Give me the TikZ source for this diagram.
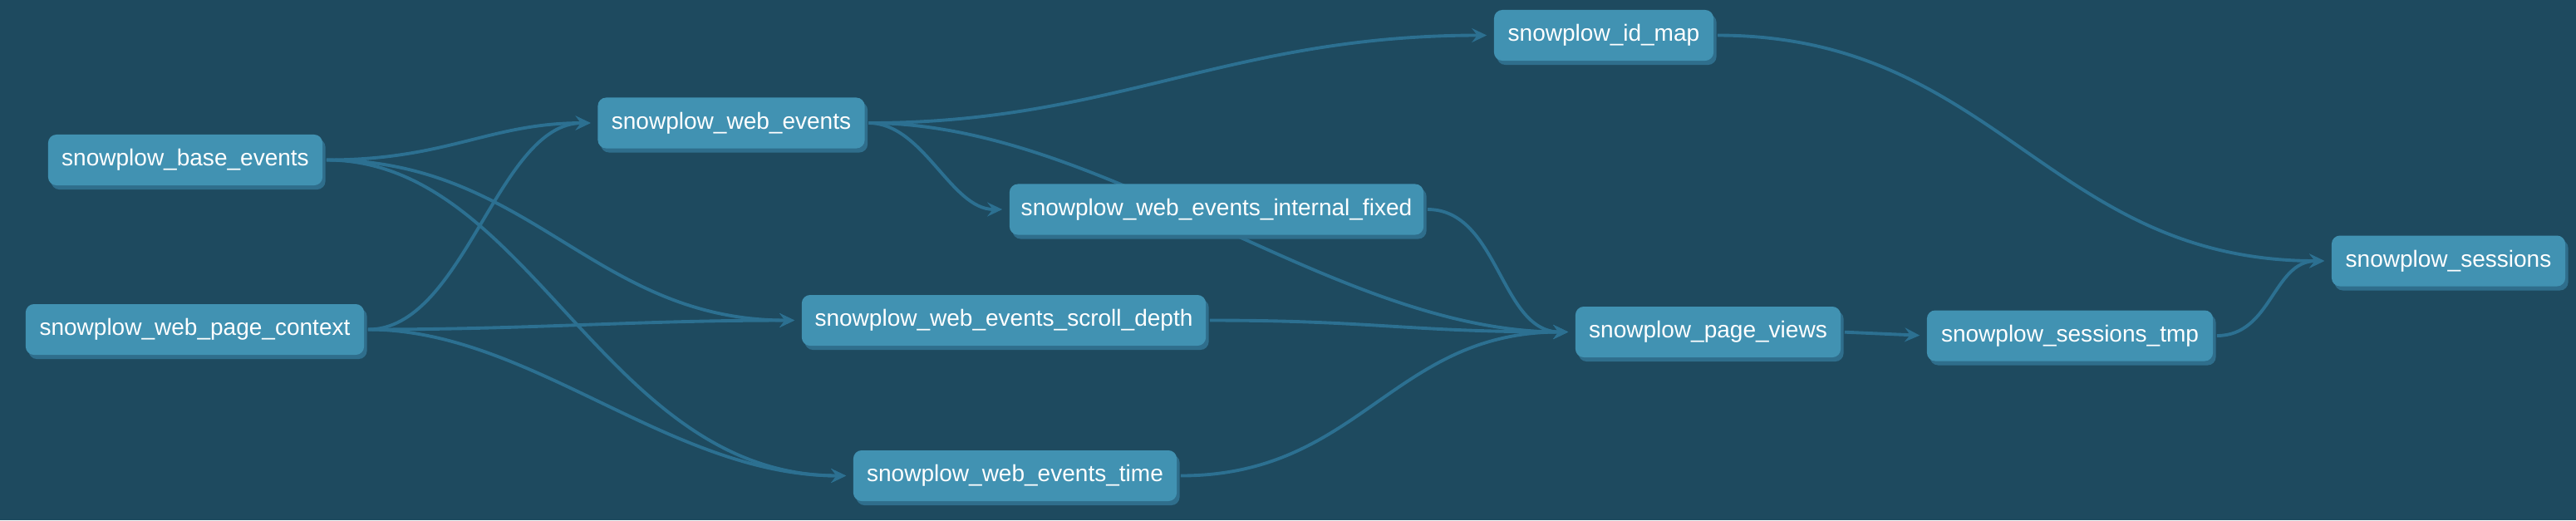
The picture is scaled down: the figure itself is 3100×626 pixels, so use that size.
\documentclass[tikz,border=0pt]{standalone}
\usepackage{fontspec}
\setmainfont{Liberation Sans}
\usetikzlibrary{arrows.meta,shadows}
\definecolor{bgc}{RGB}{30,74,95}
\definecolor{nodec}{RGB}{65,146,178}
\definecolor{shadc}{RGB}{47,110,140}
\definecolor{edgec}{RGB}{44,112,145}
\pgfdeclarelayer{bglayer}
\pgfdeclarelayer{edgelayer}
\pgfsetlayers{bglayer,edgelayer,main}
\tikzset{
  model/.style={rectangle, rounded corners=0.1cm, fill=nodec, text=white,
    minimum height=0.61cm, inner sep=0pt,
    font=\fontsize{7.97pt}{9pt}\selectfont,
    drop shadow={shadow xshift=0.035cm, shadow yshift=-0.05cm, fill=shadc, opacity=1}},
  dep/.style={draw=edgec, line width=1.1pt, shorten <=0.04cm, shorten >=0.08cm,
    -{Stealth[length=0.18cm, width=0.17cm, inset=0.065cm]}}
}
\begin{document}
\begin{tikzpicture}[x=0.01cm,y=-0.01cm]
\begin{pgfonlayer}{bglayer}
\fill[bgc] (0,0) rectangle (3100,626);
\end{pgfonlayer}
\useasboundingbox (0,0) rectangle (3100,626);

\node[model, minimum width=3.30cm] (base) at (223,192.5) {snowplow\_base\_events};
\node[model, minimum width=4.07cm] (ctx) at (234.5,396.5) {snowplow\_web\_page\_context};
\node[model, minimum width=3.21cm] (web) at (880,148) {snowplow\_web\_events};
\node[model, minimum width=2.64cm] (idmap) at (1930,42.5) {snowplow\_id\_map};
\node[model, minimum width=4.98cm] (fixed) at (1464,252) {snowplow\_web\_events\_internal\_fixed};
\node[model, minimum width=4.86cm] (scroll) at (1208,385.5) {snowplow\_web\_events\_scroll\_depth};
\node[model, minimum width=3.89cm] (etime) at (1221.5,572.5) {snowplow\_web\_events\_time};
\node[model, minimum width=3.19cm] (pv) at (2055.5,399.5) {snowplow\_page\_views};
\node[model, minimum width=3.44cm] (stmp) at (2491,404) {snowplow\_sessions\_tmp};
\node[model, minimum width=2.81cm] (sess) at (2946.5,314) {snowplow\_sessions};

\begin{pgfonlayer}{edgelayer}
\draw[dep] (base.east) .. controls +(150,0) and +(-130,0) .. (web.west);
\draw[dep] (base.east) .. controls +(250,0) and +(-250,0) .. (scroll.west);
\draw[dep] (base.east) .. controls +(250,0) and +(-300,0) .. (etime.west);
\draw[dep] (ctx.east) .. controls +(120,0) and +(-120,0) .. (web.west);
\draw[dep] (ctx.east) .. controls +(200,0) and +(-200,0) .. (scroll.west);
\draw[dep] (ctx.east) .. controls +(200,0) and +(-220,0) .. (etime.west);
\draw[dep] (web.east) .. controls +(300,0) and +(-320,0) .. (idmap.west);
\draw[dep] (web.east) .. controls +(70,0) and +(-70,0) .. (fixed.west);
\draw[dep] (web.east) .. controls +(290,0) and +(-290,0) .. (pv.west);
\draw[dep] (fixed.east) .. controls +(90,0) and +(-90,0) .. (pv.west);
\draw[dep] (scroll.east) .. controls +(200,0) and +(-200,0) .. (pv.west);
\draw[dep] (etime.east) .. controls +(220,0) and +(-220,0) .. (pv.west);
\draw[dep] (idmap.east) .. controls +(340,0) and +(-340,0) .. (sess.west);
\draw[dep] (pv.east) -- (stmp.west);
\draw[dep] (stmp.east) .. controls +(70,0) and +(-70,0) .. (sess.west);
\end{pgfonlayer}
\end{tikzpicture}
\end{document}
